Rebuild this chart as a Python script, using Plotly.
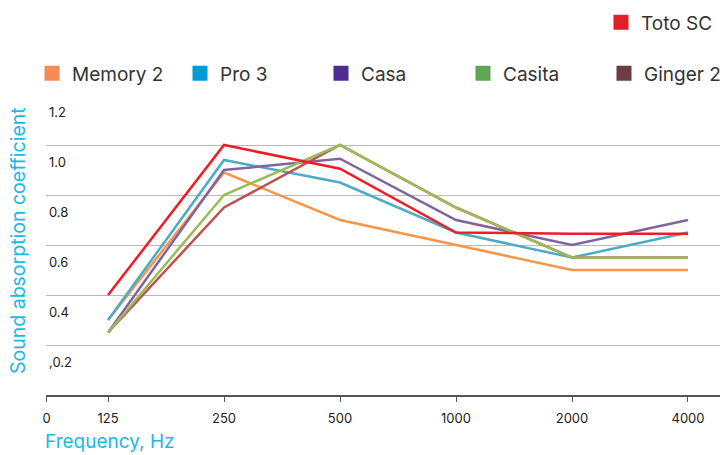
import plotly.graph_objects as go

# ---- data ----
frequencies = ["125", "250", "500", "1000", "2000", "4000"]
x_tick_labels = ["0"] + frequencies
y_tick_values = [0.2, 0.4, 0.6, 0.8, 1.0, 1.2]
y_tick_labels = [",0.2", "0.4", "0.6", "0.8", "1.0", "1.2"]

memory_2 = [0.30, 0.89, 0.70, 0.60, 0.50, 0.50]
pro_3    = [0.30, 0.94, 0.85, 0.65, 0.55, 0.65]
casa     = [0.25, 0.90, 0.945, 0.70, 0.60, 0.70]
ginger_2 = [0.25, 0.75, 1.00, 0.75, 0.55, 0.55]
casita   = [0.25, 0.80, 1.00, 0.75, 0.55, 0.55]
toto_sc  = [0.40, 1.00, 0.905, 0.65, 0.645, 0.645]

series = [
    # name, values, line colour, swatch colour
    ("Memory 2", memory_2, "#f79646", "#f48b55"),
    ("Pro 3",    pro_3,    "#4bacc6", "#009ad6"),
    ("Casa",     casa,     "#8064a2", "#4f2d90"),
    ("Ginger 2", ginger_2, "#c0504d", "#6d3d45"),
    ("Casita",   casita,   "#9bbb59", "#60a556"),
    ("Toto SC",  toto_sc,  "#f01c24", "#e01f26"),
]

# legend placement (pixel position of item left edge, row centre)
legend_slots = {
    "Memory 2": (32, 73.5),
    "Pro 3":    (180, 73.5),
    "Casa":     (321, 73.5),
    "Casita":   (463, 73.5),
    "Ginger 2": (604, 73.5),
    "Toto SC":  (601, 22.5),
}

# ---- layout constants ----
x_pos = list(range(len(frequencies)))
zero_pos = -0.53
FONT = "Inter"
CYAN = "#1db8e6"
L, T, B = 46, 95, 60
PW, PH = 720 - L, 455 - T - B

fig = go.Figure()
for name, vals, lc, sc in series:
    fig.add_trace(go.Scatter(x=x_pos, y=vals, mode="lines", name=name,
                             line=dict(color=lc, width=2.5), showlegend=False,
                             hoverinfo="skip"))

legends = {}
for i, (name, vals, lc, sc) in enumerate(series):
    key = "legend" if i == 0 else f"legend{i + 1}"
    px, py = legend_slots[name]
    fig.add_trace(go.Scatter(x=[None], y=[None], mode="markers", name=name,
                             marker=dict(symbol="square", size=15, color=sc),
                             legend=key))
    legends[key] = dict(x=(px - L) / PW, xanchor="left",
                        y=(455 - B - py) / PH, yanchor="middle",
                        orientation="h", bgcolor="rgba(0,0,0,0)",
                        font=dict(size=19, color="#333", family=FONT),
                        itemclick=False, itemdoubleclick=False)

fig.update_layout(
    width=720, height=455,
    margin=dict(l=L, r=0, t=T, b=B, autoexpand=False),
    paper_bgcolor="white", plot_bgcolor="white",
    font=dict(family=FONT, color="#222"),
    xaxis=dict(range=[-0.535, 5.276], tickvals=[zero_pos] + x_pos,
               ticktext=x_tick_labels, showgrid=False, zeroline=False,
               showline=True, linecolor="#555", linewidth=1.5,
               ticks="outside", ticklen=5, tickcolor="#555", tickwidth=1,
               tickfont=dict(size=13, color="#222"), ticklabelstandoff=6),
    yaxis=dict(range=[0, 1.2], tickvals=y_tick_values, ticktext=y_tick_labels,
               showgrid=True, gridcolor="#b8b8b8", gridwidth=1, zeroline=False,
               showline=False, ticks="", ticklabelposition="inside",
               ticklabeloverflow="allow",
               ticklabelshift=17, ticklabelstandoff=0,
               tickfont=dict(size=13, color="#222")),
    annotations=[
        dict(text="Sound absorption coefficient", xref="paper", yref="paper",
             x=(18 - L) / PW, y=(455 - B - 241) / PH, xanchor="center",
             yanchor="middle", textangle=-90, showarrow=False,
             font=dict(size=19.5, color=CYAN, family=FONT)),
        dict(text="Frequency, Hz", xref="paper", yref="paper",
             x=(43 - L) / PW, y=(455 - B - 441) / PH, xanchor="left",
             yanchor="middle", showarrow=False,
             font=dict(size=19, color=CYAN, family=FONT)),
    ],
    **legends,
)

fig.write_html("out.html", config={"displayModeBar": False},
               post_script="document.body.style.margin='0';")
